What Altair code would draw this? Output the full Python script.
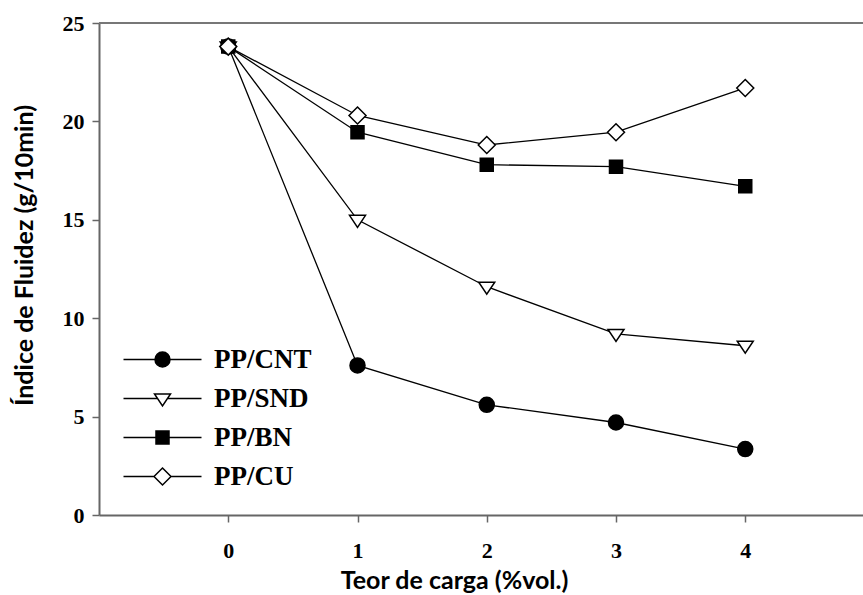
import altair as alt
import pandas as pd

# ---- data ----
series = ["PP/CNT", "PP/SND", "PP/BN", "PP/CU"]
load = [0, 1, 2, 3, 4]
cnt = [23.8, 7.6, 5.6, 4.7, 3.35]
snd = [23.8, 15.0, 11.6, 9.2, 8.6]
bn = [23.8, 19.45, 17.8, 17.7, 16.7]
cu = [23.8, 20.3, 18.8, 19.45, 21.7]
y_ticks = [0, 5, 10, 15, 20, 25]
x_ticks = [0, 1, 2, 3, 4]

values = {"PP/CNT": cnt, "PP/SND": snd, "PP/BN": bn, "PP/CU": cu}
rows = []
for s in series:
    for xv, yv in zip(load, values[s]):
        rows.append({"load": xv, "mfi": yv, "series": s, "legend_series": s})
df = pd.DataFrame(rows)

# marker shapes (unit coords) and legend shapes (line + marker)
marker_paths = [
    "M0.75,0A0.75,0.75,0,1,1,-0.75,0A0.75,0.75,0,1,1,0.75,0Z",
    "M-0.8,-0.45L0.8,-0.45L0,0.75Z",
    "M-0.65,-0.65H0.65V0.65H-0.65Z",
    "M0,-0.85L0.85,0L0,0.85L-0.85,0Z",
]
legend_paths = [
    "M-3.9,0H-0.75M0.75,0H3.9" + marker_paths[0],
    "M-3.9,0H-0.5M0.5,0H3.9" + marker_paths[1],
    "M-3.9,0H-0.65M0.65,0H3.9" + marker_paths[2],
    "M-3.9,0H-0.85M0.85,0H3.9" + marker_paths[3],
]
fills = ["black", "white", "black", "white"]
strokes = ["black", "black", "black", "black"]

x_scale = alt.Scale(domain=[-1, 4.911], nice=False, zero=False)
y_scale = alt.Scale(domain=[0, 25], nice=False)

x_enc = alt.X("load:Q", scale=x_scale,
              axis=alt.Axis(values=x_ticks, format="d", title="Teor de carga (%vol.)",
                            titleX=355, titleY=65, titleBaseline="middle",
                            labelPadding=18))
y_enc = alt.Y("mfi:Q", scale=y_scale,
              axis=alt.Axis(values=y_ticks, format="d", title="Índice de Fluidez (g/10min)",
                            titleX=-75, titleY=232, titleBaseline="middle", titleAngle=-90,
                            titleAlign="center", labelPadding=8))

base = alt.Chart(df)

top_rule = alt.Chart(df).mark_rule(color="#777777", strokeWidth=2).encode(y=alt.datum(25))

lines = base.mark_line(color="black", strokeWidth=1.3).encode(
    x=x_enc, y=y_enc, detail="series:N"
)

points = base.mark_point(filled=True, size=400, stroke="black", strokeWidth=1.5, opacity=1).encode(
    x=x_enc, y=y_enc,
    shape=alt.Shape("series:N", scale=alt.Scale(domain=series, range=marker_paths), legend=None),
    fill=alt.Fill("series:N", scale=alt.Scale(domain=series, range=fills), legend=None),
)

legend = alt.Legend(
    title=None, orient="none", legendX=21, legendY=323, padding=0,
    symbolSize=400, symbolStrokeWidth=1.5, symbolOpacity=1,
    symbolOffset=29, labelOffset=38, rowPadding=11,
    labelFont="Liberation Serif", labelFontWeight="bold", labelFontSize=27,
    labelColor="black", labelLimit=0,
)

legend_layer = base.transform_filter(alt.datum.load == 0).mark_point(
    filled=True, size=0, strokeWidth=1.5
).encode(
    x=x_enc, y=y_enc,
    shape=alt.Shape("legend_series:N", scale=alt.Scale(domain=series, range=legend_paths), legend=legend),
    fill=alt.Fill("legend_series:N", scale=alt.Scale(domain=series, range=fills), legend=legend),
    stroke=alt.Stroke("legend_series:N", scale=alt.Scale(domain=series, range=strokes), legend=legend),
)

chart = alt.layer(top_rule, lines, legend_layer, points).resolve_scale(
    shape="independent", fill="independent", stroke="independent"
).properties(
    width=764, height=492,
    autosize=alt.AutoSizeParams(type="none"),
    padding={"left": 99, "top": 23, "right": 0, "bottom": 80},
    background="white",
).configure_view(stroke=None).configure_axis(
    domainColor="#666666", domainWidth=2, tickColor="#666666", tickWidth=1.5, tickSize=7,
    labelFont="Liberation Serif", labelFontWeight="bold", labelFontSize=22, labelColor="black",
    titleFont="Lato", titleFontWeight="bold", titleFontSize=25, titleColor="black",
    grid=False,
)

chart.save("out.html", embed_options={"renderer": "svg", "actions": False})
